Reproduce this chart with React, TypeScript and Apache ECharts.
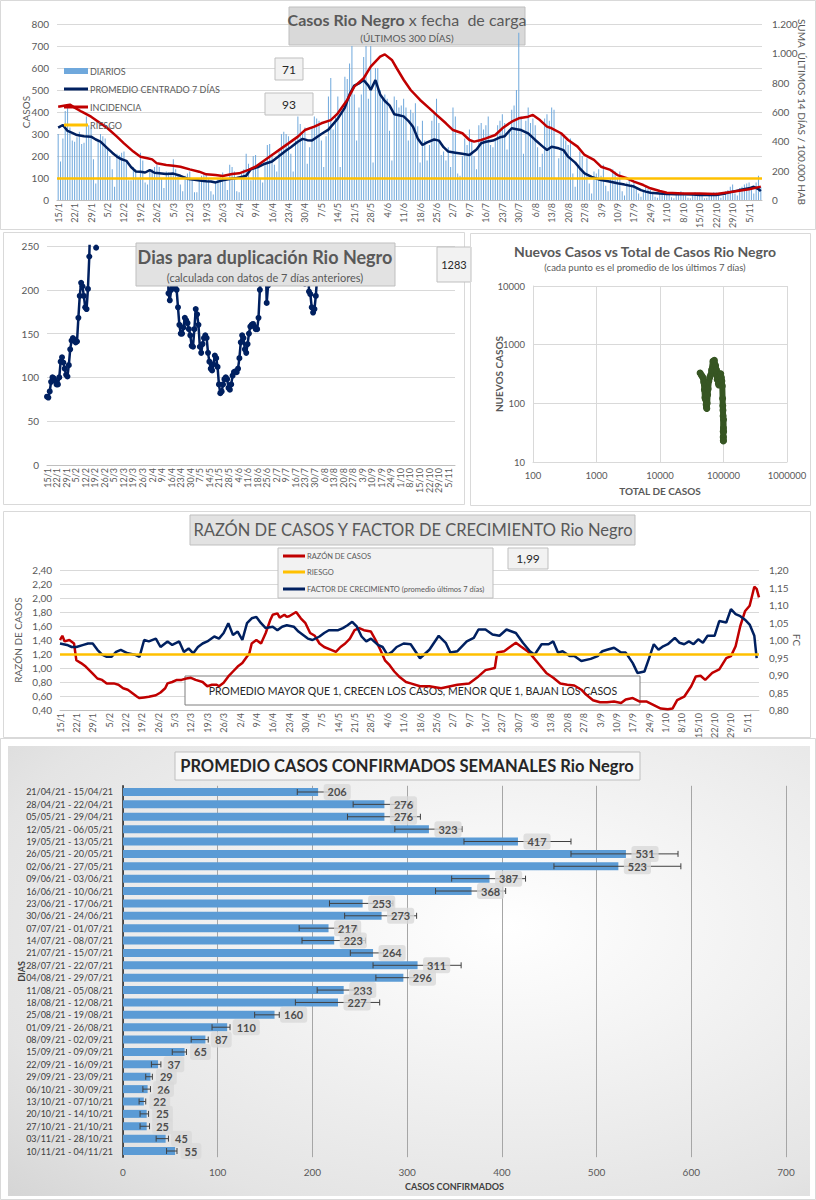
import React, { useEffect, useRef } from "react";
import * as echarts from "echarts";

const FONT = "Lato, 'Liberation Sans', sans-serif";
const TXT = "#595959";
const DARK = "#262626";
const NAVY = "#002060";
const RED = "#c00000";
const YELLOW = "#ffc000";
const BLUE = "#5b9bd5";
const GRID = "#d9d9d9";

// ---------- categories: 300 days from 15/1/2021 ----------
const N_DAYS = 300;
const DAY_LABELS: string[] = [];
for (let i = 0; i < N_DAYS; i++) {
  const d = new Date(Date.UTC(2021, 0, 15 + i));
  DAY_LABELS.push(`${d.getUTCDate()}/${d.getUTCMonth() + 1}`);
}

// ---------- chart 1: casos diarios ----------
const DAILY_CASES = [
  300, 175, 280, 405, 420, 330, 270,
  265, 285, 310, 255, 260, 380, 340,
  330, 185, 75, 270, 300, 290, 280,
  230, 200, 140, 60, 210, 205, 215,
  220, 180, 90, 90, 150, 140, 100,
  215, 180, 80, 70, 130, 140, 150,
  160, 150, 95, 55, 130, 125, 120,
  185, 140, 115, 70, 40, 110, 120,
  130, 100, 35, 35, 90, 110, 120,
  120, 95, 40, 25, 80, 100, 105,
  125, 90, 45, 160, 150, 130, 40,
  35, 120, 140, 210, 165, 90, 200,
  205, 160, 100, 80, 170, 250, 255,
  210, 160, 130, 220, 300, 310, 300,
  290, 210, 130, 270, 380, 345, 300,
  330, 165, 240, 330, 380, 370, 360,
  270, 150, 290, 470, 555, 320, 380,
  470, 150, 400, 560, 550, 620, 700,
  480, 270, 420, 480, 650, 700, 460,
  700, 170, 600, 600, 500, 460, 480,
  460, 315, 180, 470, 455, 420, 430,
  460, 420, 270, 410, 395, 440, 335,
  170, 360, 270, 180, 250, 360, 395,
  460, 350, 205, 220, 180, 240, 150,
  420, 380, 120, 110, 200, 280, 250,
  320, 270, 200, 140, 340, 350, 320,
  340, 380, 250, 240, 270, 340, 360,
  390, 350, 230, 320, 410, 430, 500,
  760, 380, 210, 360, 420, 350, 370,
  340, 240, 150, 210, 370, 390, 360,
  420, 410, 100, 190, 300, 290, 270,
  250, 280, 120, 60, 160, 220, 200,
  120, 190, 75, 30, 130, 120, 140,
  110, 160, 65, 40, 100, 140, 130,
  100, 130, 40, 20, 80, 90, 70,
  80, 50, 30, 15, 40, 60, 50,
  45, 30, 15, 10, 30, 35, 40,
  30, 25, 12, 8, 30, 35, 40,
  35, 20, 10, 8, 30, 35, 30,
  25, 20, 8, 10, 30, 30, 35,
  35, 20, 10, 20, 40, 45, 60,
  70, 30, 20, 55, 60, 70, 75,
  80, 45, 30, 80, 110, 60,
];

// [day index, value]
const AVG7 = [
  [0, 329], [2, 341], [4, 314], [6, 305], [8, 295], [11, 290], [14, 288], [16, 275], [18, 265],
  [21, 235], [23, 215], [25, 197], [27, 185], [29, 178], [31, 150], [33, 130], [35, 128], [37, 125],
  [39, 136], [41, 124], [43, 122], [46, 118], [49, 120], [52, 110], [55, 97], [58, 92], [61, 88],
  [63, 85], [65, 84], [67, 80], [70, 90], [73, 95], [76, 100], [78, 105], [80, 110], [82, 140],
  [85, 150], [88, 165], [91, 175], [94, 200], [97, 225], [99, 240], [102, 265], [104, 278],
  [106, 272], [108, 270], [110, 285], [112, 300], [115, 320], [117, 345], [119, 370], [122, 420],
  [124, 480], [126, 520], [128, 530], [130, 545], [132, 520], [133, 500], [135, 545], [137, 480],
  [139, 450], [141, 430], [143, 390], [145, 385], [147, 380], [149, 360], [151, 333], [153, 280],
  [155, 250], [157, 262], [160, 275], [162, 270], [164, 240], [166, 220], [169, 215], [172, 210],
  [175, 205], [178, 230], [180, 258], [182, 265], [185, 270], [188, 285], [190, 290], [193, 326],
  [195, 322], [197, 318], [200, 303], [203, 273], [206, 245], [208, 227], [210, 242], [213, 235],
  [215, 227], [217, 197], [220, 170], [222, 144], [224, 121], [227, 105], [229, 98], [231, 91],
  [234, 85], [238, 76], [241, 70], [245, 61], [248, 45], [250, 38], [252, 33], [256, 30], [259, 27],
  [263, 26], [266, 26], [270, 25], [273, 23], [277, 23], [280, 23], [284, 30], [287, 38], [290, 45],
  [294, 53], [296, 60], [298, 50], [299, 40],
];

const INCIDENCIA = [
  [0, 636], [3, 645], [5, 650], [7, 630], [10, 602], [14, 568], [18, 523], [21, 489], [25, 432],
  [28, 386], [32, 330], [35, 295], [38, 285], [40, 277], [42, 250], [46, 239], [49, 234], [52, 227],
  [56, 209], [60, 193], [63, 175], [67, 170], [70, 164], [74, 177], [77, 182], [81, 205], [84, 227],
  [88, 273], [91, 307], [95, 352], [98, 386], [102, 432], [105, 477], [109, 500], [112, 523],
  [116, 545], [119, 591], [123, 682], [126, 773], [130, 830], [133, 909], [137, 977], [139, 993],
  [142, 955], [144, 900], [147, 820], [150, 750], [154, 682], [158, 625], [161, 580], [165, 523],
  [168, 477], [172, 455], [175, 409], [177, 398], [180, 409], [182, 420], [186, 443], [189, 489],
  [193, 534], [196, 557], [200, 568], [202, 580], [205, 545], [208, 500], [210, 489], [214, 455],
  [217, 409], [221, 364], [224, 307], [228, 273], [231, 227], [235, 205], [238, 170], [242, 148],
  [245, 125], [249, 102], [252, 80], [256, 61], [259, 50], [266, 45], [273, 45], [280, 41],
  [287, 57], [294, 73], [299, 91],
];
const RIESGO_INCIDENCIA = 150;

// ---------- chart 2: dias para duplicacion ----------
const DUP_SEGMENTS = [
  { start: 0, values: [78, 77, 84, 95, 100, 99, 96, 92, 92, 100, 118, 123, 117, 110, 103, 101, 114, 132, 142, 145, 143, 140, 141, 168, 193, 208, 204, 193, 180, 178, 201, 238, 300, 450, 620, 700, 248, 900] },
  { start: 88, values: [350, 196, 188, 200, 203, 204, 202, 200, 180, 160, 150, 150, 157, 168, 165, 162, 155, 148, 136, 135, 155, 178, 172, 160, 135, 128, 138, 145, 148, 145, 128, 118, 110, 108, 115, 125, 122, 112, 92, 82, 84, 92, 98, 100, 98, 88, 86, 92, 102, 106, 107, 106, 110, 122, 140, 148, 145, 132, 128, 138, 150, 158, 160, 161, 158, 155, 155, 168, 200, 225, 270, 400, 260, 185, 205, 320] },
  { start: 188, values: [320, 207, 290, 260, 198, 195, 180, 174, 178, 193, 215, 330] },
];
const DUP_LAST = "1283";

// ---------- chart 3: nuevos vs total (log-log) ----------
const TOTAL_VS_NEW = [
  [42800, 330], [45000, 300], [47000, 280], [48800, 230], [50000, 170], [51000, 125], [51800, 120],
  [52600, 115], [53300, 95], [54000, 85], [54600, 82], [55300, 100], [56200, 140], [57300, 175],
  [58800, 240], [60600, 275], [62700, 300], [65000, 370], [68200, 520], [71800, 540], [75000, 440],
  [77600, 370], [79500, 255], [81300, 270], [83000, 220], [84400, 205], [86000, 265], [88000, 290],
  [90500, 320], [92500, 275], [94200, 240], [95700, 197], [96800, 121], [97500, 91], [98100, 76],
  [98600, 61], [98900, 33], [99100, 27], [99300, 26], [99450, 23], [99600, 23], [99800, 38],
  [100100, 53], [100400, 33],
];

// ---------- chart 4: razon de casos y factor de crecimiento ----------
const RAZON = [
  [0, 1.40], [1, 1.46], [2, 1.38], [4, 1.40], [6, 1.35], [7, 1.11], [9, 1.07], [11, 1.02], [14, 0.92],
  [16, 0.85], [18, 0.83], [20, 0.78], [23, 0.78], [25, 0.76], [27, 0.71], [29, 0.69], [31, 0.64],
  [33, 0.59], [34, 0.57], [36, 0.58], [38, 0.59], [41, 0.61], [43, 0.65], [45, 0.71], [46, 0.78],
  [48, 0.80], [50, 0.83], [52, 0.83], [54, 0.85], [56, 0.86], [58, 0.83], [61, 0.80], [63, 0.74],
  [65, 0.76], [67, 0.76], [68, 0.74], [70, 0.79], [72, 0.88], [74, 0.95], [76, 1.02], [78, 1.07],
  [81, 1.21], [82, 1.35], [84, 1.40], [86, 1.35], [88, 1.50], [90, 1.69], [91, 1.76], [93, 1.78],
  [94, 1.72], [96, 1.76], [97, 1.73], [98, 1.74], [101, 1.80], [103, 1.71], [105, 1.64], [107, 1.50],
  [109, 1.46], [111, 1.35], [113, 1.30], [116, 1.26], [118, 1.23], [120, 1.30], [122, 1.35],
  [124, 1.42], [126, 1.54], [128, 1.57], [130, 1.54], [133, 1.52], [135, 1.40], [137, 1.26],
  [139, 1.11], [141, 1.04], [143, 0.95], [145, 0.88], [148, 0.80], [150, 0.78], [154, 0.74],
  [158, 0.74], [163, 0.71], [167, 0.74], [170, 0.76], [175, 0.78], [179, 0.88], [182, 0.97],
  [186, 1.00], [187, 1.22], [190, 1.24], [192, 1.29], [195, 1.36], [197, 1.31], [200, 1.24],
  [202, 1.17], [205, 1.05], [208, 0.93], [211, 0.86], [214, 0.78], [217, 0.76], [220, 0.75],
  [223, 0.69], [225, 0.62], [228, 0.54], [231, 0.51], [234, 0.51], [237, 0.52], [240, 0.50],
  [242, 0.55], [245, 0.57], [248, 0.52], [251, 0.52], [254, 0.47], [257, 0.42], [260, 0.41],
  [262, 0.42], [264, 0.54], [267, 0.59], [270, 0.74], [272, 0.88], [274, 0.89], [276, 0.83],
  [279, 0.93], [282, 0.98], [285, 1.14], [287, 1.17], [289, 1.31], [291, 1.60], [293, 1.81],
  [295, 1.89], [297, 2.16], [298, 2.13], [299, 2.01],
];
const FACTOR_CREC = [
  [0, 0.99], [3, 0.986], [5, 0.98], [7, 0.98], [10, 0.986], [12, 0.99], [14, 0.99], [16, 0.972],
  [18, 0.958], [20, 0.952], [22, 0.952], [24, 0.966], [26, 0.972], [29, 0.962], [32, 0.958],
  [34, 0.952], [36, 1.0], [38, 0.996], [41, 1.004], [43, 0.98], [46, 0.996], [48, 0.986], [51, 0.996],
  [53, 0.966], [55, 0.976], [57, 0.962], [59, 0.98], [61, 0.99], [63, 0.996], [66, 1.01], [68, 1.004],
  [70, 1.02], [72, 1.048], [74, 1.014], [76, 1.024], [78, 1.0], [80, 1.048], [82, 1.062], [84, 1.066],
  [86, 1.048], [88, 1.034], [91, 1.038], [93, 1.028], [95, 1.038], [97, 1.042], [100, 1.038],
  [102, 1.024], [104, 1.014], [106, 1.004], [108, 1.0], [111, 1.01], [113, 1.02], [115, 1.028],
  [117, 1.028], [119, 1.028], [121, 1.034], [123, 1.042], [125, 1.052], [127, 1.038], [129, 1.01],
  [131, 0.996], [133, 1.004], [136, 0.986], [138, 0.98], [140, 0.958], [142, 0.966], [144, 0.98],
  [147, 0.99], [150, 0.988], [154, 0.948], [158, 0.972], [162, 1.012], [165, 0.992], [167, 0.964],
  [170, 0.968], [174, 0.996], [177, 1.006], [179, 1.03], [182, 1.03], [185, 1.016], [188, 1.012],
  [191, 1.03], [195, 1.02], [198, 0.992], [201, 0.968], [203, 0.958], [206, 0.988], [209, 0.988],
  [211, 0.996], [213, 0.964], [215, 0.968], [218, 0.954], [220, 0.954], [223, 0.94], [227, 0.946],
  [230, 0.954], [232, 0.968], [234, 0.972], [237, 0.978], [240, 0.964], [242, 0.964], [245, 0.934],
  [247, 0.906], [250, 0.91], [252, 0.948], [254, 0.988], [256, 0.972], [258, 0.982], [260, 0.988],
  [263, 1.006], [265, 0.992], [267, 0.988], [269, 0.996], [271, 0.988], [273, 1.002], [275, 0.992],
  [277, 1.012], [280, 1.012], [282, 1.054], [285, 1.05], [287, 1.088], [289, 1.074], [291, 1.068],
  [293, 1.058], [295, 1.044], [297, 1.012], [298, 0.948],
];
const RIESGO_RAZON = 1.2;
const RAZON_LAST = "1,99";

// ---------- chart 5: promedio semanal ----------
const WEEKS = [
  "21/04/21 - 15/04/21", "28/04/21 - 22/04/21", "05/05/21 - 29/04/21", "12/05/21 - 06/05/21",
  "19/05/21 - 13/05/21", "26/05/21 - 20/05/21", "02/06/21 - 27/05/21", "09/06/21 - 03/06/21",
  "16/06/21 - 10/06/21", "23/06/21 - 17/06/21", "30/06/21 - 24/06/21", "07/07/21 - 01/07/21",
  "14/07/21 - 08/07/21", "21/07/21 - 15/07/21", "28/07/21 - 22/07/21", "04/08/21 - 29/07/21",
  "11/08/21 - 05/08/21", "18/08/21 - 12/08/21", "25/08/21 - 19/08/21", "01/09/21 - 26/08/21",
  "08/09/21 - 02/09/21", "15/09/21 - 09/09/21", "22/09/21 - 16/09/21", "29/09/21 - 23/09/21",
  "06/10/21 - 30/09/21", "13/10/21 - 07/10/21", "20/10/21 - 14/10/21", "27/10/21 - 21/10/21",
  "03/11/21 - 28/10/21", "10/11/21 - 04/11/21",
];
const WEEK_AVG = [206, 276, 276, 323, 417, 531, 523, 387, 368, 253, 273, 217, 223, 264, 311, 296, 233, 227, 160, 110, 87, 65, 37, 29, 26, 22, 25, 25, 45, 55];
const WEEK_LOW = [184, 243, 237, 287, 360, 473, 455, 347, 330, 218, 234, 186, 189, 240, 264, 267, 205, 182, 139, 94, 72, 52, 30, 24, 21, 17, 18, 18, 35, 46];
const WEEK_HIGH = [220, 306, 314, 358, 473, 586, 589, 425, 404, 285, 310, 247, 256, 275, 357, 310, 245, 271, 165, 113, 90, 67, 40, 31, 29, 24, 27, 28, 48, 57];

// ---------- helpers ----------
const comma = (v: number, d: number) => v.toFixed(d).replace(".", ",");
const thousands = (v: number) => {
  const n = Math.round(v);
  return n >= 1000 ? `${Math.floor(n / 1000)}.${String(n % 1000).padStart(3, "0")}` : String(n);
};
const border = (x: number, y: number, w: number, h: number, color = "#d9d9d9") => ({
  type: "rect", z: -2, silent: true,
  shape: { x, y, width: w, height: h },
  style: { fill: "none", stroke: color, lineWidth: 1 },
});
const box = (x: number, y: number, w: number, h: number, text: string, fontSize = 12, fill = "#f2f2f2", z = 1) => [
  { type: "rect", z, silent: true, shape: { x, y, width: w, height: h }, style: { fill, stroke: "#bfbfbf", lineWidth: 1 } },
  { type: "text", z, silent: true, x: x + w / 2, y: y + h / 2, style: { text, fill: DARK, fontSize, fontFamily: FONT, align: "center", verticalAlign: "middle" } },
];
const legendRow = (x: number, y: number, w: number, kind: string, color: string, text: string, fontSize: number, thick: number) => [
  kind === "rect"
    ? { type: "rect", z: 5, silent: true, shape: { x, y: y - thick / 2, width: w, height: thick }, style: { fill: color } }
    : { type: "line", z: 5, silent: true, shape: { x1: x, y1: y, x2: x + w, y2: y }, style: { stroke: color, lineWidth: thick } },
  { type: "text", z: 5, silent: true, x: x + w + 2, y, style: { text, fill: TXT, fontSize, fontFamily: FONT, align: "left", verticalAlign: "middle" } },
];
const dayAxis = (boundaryGap: boolean, fontSize: number) => ({
  type: "category",
  data: DAY_LABELS,
  boundaryGap,
  axisLine: { show: true, lineStyle: { color: "#bfbfbf" } },
  axisTick: { show: false },
  axisLabel: { interval: 6, rotate: 90, fontSize, color: TXT, fontFamily: FONT, margin: 3 },
  splitLine: { show: false },
});
const nameStyle = (bold = false) => ({ fontSize: 10, color: TXT, fontFamily: FONT, fontWeight: bold ? "bold" : "normal" });

// ---------- options ----------
const option1 = {
  animation: false,
  textStyle: { fontFamily: FONT },
  grid: { left: 57, right: 54, top: 24, bottom: 30, outerBoundsMode: "none" },
  xAxis: dayAxis(true, 9),
  yAxis: [
    {
      type: "value", min: 0, max: 800, interval: 100,
      name: "CASOS", nameLocation: "middle", nameGap: 26, nameRotate: 90, nameMoveOverlap: false,
      nameTextStyle: nameStyle(),
      axisLabel: { fontSize: 10, color: TXT, fontFamily: FONT },
      axisLine: { show: false }, axisTick: { show: false },
      splitLine: { lineStyle: { color: GRID } },
    },
    {
      type: "value", min: 0, max: 1200, interval: 200,
      name: "SUMA  ÚLTIMOS 14 DÍAS / 100.000 HAB", nameLocation: "middle", nameGap: 35, nameRotate: -90, nameMoveOverlap: false,
      nameTextStyle: nameStyle(),
      axisLabel: { fontSize: 10, color: TXT, fontFamily: FONT, margin: 10, formatter: thousands },
      axisLine: { show: false }, axisTick: { show: false },
      splitLine: { show: false },
    },
  ],
  series: [
    { name: "DIARIOS", type: "bar", data: DAILY_CASES, barCategoryGap: "58%", itemStyle: { color: "#6fa8dc" } },
    { name: "PROMEDIO CENTRADO 7 DÍAS", type: "line", data: AVG7, symbol: "none", lineStyle: { color: NAVY, width: 2.5 }, z: 3 },
    { name: "INCIDENCIA", type: "line", yAxisIndex: 1, data: INCIDENCIA, symbol: "none", lineStyle: { color: RED, width: 2.5 }, z: 3 },
    {
      name: "RIESGO", type: "line", yAxisIndex: 1, data: [], symbol: "none",
      lineStyle: { color: YELLOW, width: 2.5 }, z: 4,
      markLine: { silent: true, symbol: ["none", "none"], label: { show: false }, lineStyle: { color: YELLOW, width: 2.5, type: "solid" }, data: [{ yAxis: RIESGO_INCIDENCIA }] },
    },
  ],
  graphic: [
    border(0.5, 0.5, 815, 229),
    ...legendRow(64, 71, 24, "rect", "#6fa8dc", "DIARIOS", 9, 6),
    ...legendRow(64, 89, 24, "line", NAVY, "PROMEDIO CENTRADO 7 DÍAS", 9, 3),
    ...legendRow(64, 107, 24, "line", RED, "INCIDENCIA", 9, 3),
    ...legendRow(64, 125, 24, "line", YELLOW, "RIESGO", 9, 3),
    { type: "rect", z: 1, silent: true, shape: { x: 289, y: 7, width: 236, height: 38 }, style: { fill: "#d9d9d9", stroke: "#bfbfbf", lineWidth: 1 } },
    {
      type: "text", z: 1, silent: true, x: 407, y: 11,
      style: {
        text: "{b|Casos Rio Negro} x fecha  de carga", fill: TXT, fontSize: 16, fontFamily: FONT, align: "center",
        rich: { b: { fontWeight: "bold", fontSize: 16, fill: TXT, fontFamily: FONT } },
      },
    },
    { type: "text", z: 1, silent: true, x: 407, y: 33, style: { text: "(ÚLTIMOS 300 DÍAS)", fill: TXT, fontSize: 10, fontFamily: FONT, align: "center" } },
    ...box(275, 58, 28, 22, "71"),
    ...box(265, 93, 48, 22, "93"),
  ],
};

const DUP_SERIES: (number | null)[] = [];
for (let i = 0; i < N_DAYS; i++) DUP_SERIES.push(null);
DUP_SEGMENTS.forEach((s) => s.values.forEach((v, k) => { DUP_SERIES[s.start + k] = v; }));

const option2 = {
  animation: false,
  textStyle: { fontFamily: FONT },
  grid: { left: 44, right: 18, top: 14, bottom: 41, outerBoundsMode: "none" },
  xAxis: dayAxis(false, 9),
  yAxis: {
    type: "value", min: 0, max: 250, interval: 50,
    axisLabel: { fontSize: 10, color: TXT, fontFamily: FONT },
    axisLine: { show: false }, axisTick: { show: false },
    splitLine: { lineStyle: { color: GRID } },
  },
  series: [
    {
      name: "Dias para duplicación", type: "line", data: DUP_SERIES, connectNulls: false, clip: true,
      symbol: "circle", symbolSize: 6, showSymbol: true, showAllSymbol: true,
      itemStyle: { color: NAVY }, lineStyle: { color: NAVY, width: 2.5 },
    },
  ],
  graphic: [
    border(0.5, 0.5, 461, 272),
    { type: "rect", z: 10, silent: true, shape: { x: 133, y: 11, width: 259, height: 43 }, style: { fill: "#e2e2e2", stroke: "#bfbfbf", lineWidth: 1 } },
    { type: "text", z: 10, silent: true, x: 262, y: 16, style: { text: "Dias para duplicación Rio Negro", fill: TXT, fontSize: 18, fontWeight: "bold", fontFamily: FONT, align: "center" } },
    { type: "text", z: 10, silent: true, x: 262, y: 40, style: { text: "(calculada con datos de 7 días anteriores)", fill: TXT, fontSize: 11, fontFamily: FONT, align: "center" } },
    ...box(434, 15, 34, 35, DUP_LAST, 11, "#f2f2f2", 10),
  ],
};

const option3 = {
  animation: false,
  textStyle: { fontFamily: FONT },
  grid: { left: 63, right: 25, top: 53, bottom: 44, outerBoundsMode: "none" },
  xAxis: {
    type: "log", logBase: 10, min: 100, max: 1000000,
    name: "TOTAL DE CASOS", nameLocation: "middle", nameGap: 24, nameMoveOverlap: false,
    nameTextStyle: nameStyle(true),
    axisLabel: { fontSize: 9.5, color: TXT, fontFamily: FONT, formatter: (v: number) => String(Math.round(v)) },
    axisLine: { show: true, lineStyle: { color: GRID } }, axisTick: { show: false },
    splitLine: { show: true, lineStyle: { color: GRID } },
  },
  yAxis: {
    type: "log", logBase: 10, min: 10, max: 10000,
    name: "NUEVOS CASOS", nameLocation: "middle", nameGap: 29, nameRotate: 90, nameMoveOverlap: false,
    nameTextStyle: nameStyle(true),
    axisLabel: { fontSize: 9.5, color: TXT, fontFamily: FONT, formatter: (v: number) => String(Math.round(v)) },
    axisLine: { show: true, lineStyle: { color: GRID } }, axisTick: { show: false },
    splitLine: { show: true, lineStyle: { color: GRID } },
  },
  series: [
    {
      name: "Nuevos Casos", type: "line", data: TOTAL_VS_NEW, symbol: "circle", symbolSize: 7, showAllSymbol: true,
      itemStyle: { color: "#375623" }, lineStyle: { color: "#375623", width: 6, cap: "round", join: "round" },
    },
  ],
  graphic: [
    border(0.5, 0.5, 340, 272),
    { type: "text", z: 1, silent: true, x: 175, y: 11, style: { text: "Nuevos Casos vs Total de Casos Rio Negro", fill: TXT, fontSize: 14, fontWeight: "bold", fontFamily: FONT, align: "center" } },
    { type: "text", z: 1, silent: true, x: 175, y: 29, style: { text: "(cada punto es el promedio de los últimos 7 días)", fill: TXT, fontSize: 9.5, fontFamily: FONT, align: "center" } },
  ],
};

const option4 = {
  animation: false,
  textStyle: { fontFamily: FONT },
  grid: { left: 57, right: 53, top: 59, bottom: 28, outerBoundsMode: "none" },
  xAxis: dayAxis(false, 9),
  yAxis: [
    {
      type: "value", min: 0.4, max: 2.4, interval: 0.2,
      name: "RAZÓN DE CASOS", nameLocation: "middle", nameGap: 37, nameRotate: 90, nameMoveOverlap: false,
      nameTextStyle: nameStyle(),
      axisLabel: { fontSize: 10, color: TXT, fontFamily: FONT, formatter: (v: number) => comma(v, 2) },
      axisLine: { show: false }, axisTick: { show: false },
      splitLine: { lineStyle: { color: GRID } },
    },
    {
      type: "value", min: 0.8, max: 1.2, interval: 0.05,
      name: "FC", nameLocation: "middle", nameGap: 33, nameRotate: -90, nameMoveOverlap: false,
      nameTextStyle: nameStyle(),
      axisLabel: { fontSize: 10, color: TXT, fontFamily: FONT, margin: 10, formatter: (v: number) => comma(v, 2) },
      axisLine: { show: false }, axisTick: { show: false },
      splitLine: { show: false },
    },
  ],
  series: [
    { name: "RAZÓN DE CASOS", type: "line", data: RAZON, symbol: "none", lineStyle: { color: RED, width: 2.5 }, z: 3 },
    {
      name: "RIESGO", type: "line", data: [], symbol: "none", lineStyle: { color: YELLOW, width: 2.5 }, z: 2,
      markLine: { silent: true, symbol: ["none", "none"], label: { show: false }, lineStyle: { color: YELLOW, width: 2.5, type: "solid" }, data: [{ yAxis: RIESGO_RAZON }] },
    },
    { name: "FACTOR DE CRECIMIENTO (promedio últimos 7 días)", type: "line", yAxisIndex: 1, data: FACTOR_CREC, symbol: "none", lineStyle: { color: NAVY, width: 2.5 }, z: 3 },
  ],
  graphic: [
    border(0.5, 0.5, 807, 226),
    { type: "rect", z: 1, silent: true, shape: { x: 187, y: 4, width: 445, height: 30 }, style: { fill: "#e2e2e2", stroke: "#bfbfbf", lineWidth: 1 } },
    { type: "text", z: 1, silent: true, x: 410, y: 19, style: { text: "RAZÓN DE CASOS Y FACTOR DE CRECIMIENTO Rio Negro", fill: TXT, fontSize: 16.5, fontFamily: FONT, align: "center", verticalAlign: "middle" } },
    { type: "rect", z: 1, silent: true, shape: { x: 275, y: 37, width: 215, height: 50 }, style: { fill: "#f2f2f2", stroke: "#bfbfbf", lineWidth: 1 } },
    ...legendRow(280, 45, 22, "line", RED, "RAZÓN DE CASOS", 7.5, 3),
    ...legendRow(280, 61, 22, "line", YELLOW, "RIESGO", 7.5, 3),
    ...legendRow(280, 78, 22, "line", NAVY, "FACTOR DE CRECIMIENTO (promedio últimos 7 días)", 7.5, 3),
    ...box(505, 37, 40, 21, RAZON_LAST, 12),
    { type: "rect", z: 1, silent: true, shape: { x: 182, y: 165, width: 455, height: 29 }, style: { fill: "#ffffff", stroke: "#7f7f7f", lineWidth: 1 } },
    { type: "text", z: 1, silent: true, x: 410, y: 180, style: { text: "PROMEDIO MAYOR QUE 1, CRECEN LOS CASOS, MENOR QUE 1, BAJAN LOS CASOS", fill: DARK, fontSize: 10.5, fontFamily: FONT, align: "center", verticalAlign: "middle" } },
  ],
};

const option5 = {
  animation: false,
  textStyle: { fontFamily: FONT },
  grid: { left: 123, right: 30, top: 47.8, bottom: 42.8, outerBoundsMode: "none" },
  xAxis: {
    type: "value", min: 0, max: 700, interval: 100,
    name: "CASOS CONFIRMADOS", nameLocation: "middle", nameGap: 25, nameMoveOverlap: false,
    nameTextStyle: { fontSize: 9, color: "#404040", fontWeight: "bold", fontFamily: FONT },
    axisLabel: { fontSize: 10, color: TXT, fontFamily: FONT, margin: 10 },
    axisLine: { show: false }, axisTick: { show: false },
    splitLine: { lineStyle: { color: "#a6a6a6" } },
  },
  yAxis: {
    type: "category", data: WEEKS, inverse: true,
    name: "DIAS", nameLocation: "middle", nameGap: 97, nameRotate: 90, nameMoveOverlap: false,
    nameTextStyle: { fontSize: 9, color: "#404040", fontWeight: "bold", fontFamily: FONT },
    axisLabel: { interval: 0, fontSize: 9, color: "#404040", fontFamily: FONT, margin: 10 },
    axisLine: { show: true, lineStyle: { color: "#262626", width: 1.5 } }, axisTick: { show: false },
    splitLine: { show: false },
  },
  series: [
    { name: "Promedio", type: "bar", data: WEEK_AVG, barWidth: 8, itemStyle: { color: BLUE }, z: 2 },
    {
      name: "Rango", type: "custom", z: 3,
      data: WEEK_AVG.map((_, i) => [i, WEEK_LOW[i], WEEK_HIGH[i]]),
      encode: { y: 0, x: [1, 2] },
      renderItem: (_p: any, api: any) => {
        const y = api.value(0);
        const a = api.coord([api.value(1), y]);
        const b = api.coord([api.value(2), y]);
        const st = { stroke: "#404040", lineWidth: 1 };
        return {
          type: "group",
          children: [
            { type: "line", shape: { x1: a[0], y1: a[1], x2: b[0], y2: b[1] }, style: st },
            { type: "line", shape: { x1: a[0], y1: a[1] - 3, x2: a[0], y2: a[1] + 3 }, style: st },
            { type: "line", shape: { x1: b[0], y1: b[1] - 3, x2: b[0], y2: b[1] + 3 }, style: st },
          ],
        };
      },
    },
    {
      name: "Etiquetas", type: "scatter", z: 4, symbolSize: 1, itemStyle: { color: "rgba(0,0,0,0)" },
      data: WEEK_AVG.map((v, i) => [v, i]),
      label: {
        show: true, position: "right", distance: 5, formatter: (p: any) => String(p.value[0]),
        backgroundColor: "#d9d9d9", borderRadius: 3, padding: [3, 4, 2, 4],
        fontSize: 11, fontWeight: "bold", color: DARK, fontFamily: FONT,
      },
    },
  ],
  graphic: [
    border(0.5, 0.5, 815, 461),
    {
      type: "rect", z: -1, silent: true, shape: { x: 8, y: 8, width: 802, height: 450 },
      style: {
        fill: {
          type: "radial", x: 0.62, y: 0.4, r: 1.1,
          colorStops: [{ offset: 0, color: "#ffffff" }, { offset: 0.6, color: "#e4e4e4" }, { offset: 1, color: "#c4c4c4" }],
        },
      },
    },
    { type: "rect", z: 1, silent: true, shape: { x: 175, y: 14, width: 465, height: 28 }, style: { fill: "#f7f7f7", stroke: "#bfbfbf", lineWidth: 1 } },
    { type: "text", z: 1, silent: true, x: 407, y: 28, style: { text: "PROMEDIO CASOS CONFIRMADOS SEMANALES Rio Negro", fill: DARK, fontSize: 16.5, fontWeight: "bold", fontFamily: FONT, align: "center", verticalAlign: "middle" } },
  ],
};

function Chart({ option, left, top, width, height }: { option: any; left: number; top: number; width: number; height: number }) {
  const ref = useRef<HTMLDivElement>(null);
  useEffect(() => {
    const c = echarts.init(ref.current as HTMLDivElement, null, { renderer: "svg" });
    c.setOption(option);
    return () => c.dispose();
  }, [option]);
  return <div ref={ref} style={{ position: "absolute", left, top, width, height }} />;
}

export default function App() {
  return (
    <div style={{ position: "absolute", left: 0, top: 0, width: 816, height: 1200, background: "#ffffff", overflow: "hidden" }}>
      <Chart option={option1} left={0} top={0} width={816} height={230} />
      <Chart option={option2} left={3} top={232} width={470} height={274} />
      <Chart option={option3} left={470} top={233} width={342} height={273} />
      <Chart option={option4} left={3} top={511} width={809} height={227} />
      <Chart option={option5} left={0} top={738} width={816} height={462} />
    </div>
  );
}
